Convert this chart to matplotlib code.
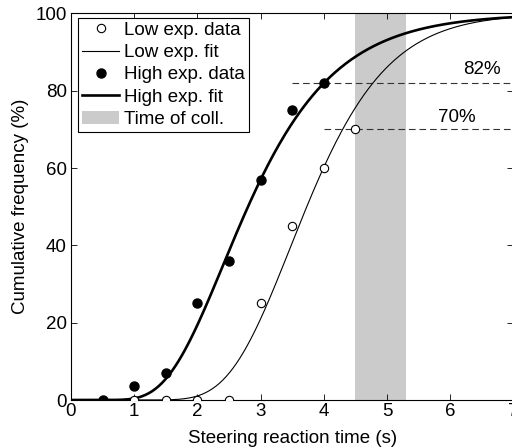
import math
import numpy as np
import matplotlib
matplotlib.use("Agg")
import matplotlib.pyplot as plt
from matplotlib.patches import Patch
from matplotlib.lines import Line2D

# Observed cumulative frequencies (%)
low_x = [1.0, 1.5, 2.0, 2.5, 3.0, 3.5, 4.0, 4.5]
low_y = [0, 0, 0, 0, 25, 45, 60, 70]
high_x = [0.5, 1.0, 1.5, 2.0, 2.5, 3.0, 3.5, 4.0]
high_y = [0, 3.5, 7, 25, 36, 57, 75, 82]

# Log-normal fit parameters (median in s, sigma of ln t)
low_fit_median, low_fit_sigma = 3.73, 0.27
high_fit_median, high_fit_sigma = 2.80, 0.39

# Time-of-collision window (s)
coll_window = [4.5, 5.3]

# Reference levels with the start of their guide line and label position
ref_levels = [82, 70]
ref_start = [3.5, 4.0]
ref_label_pos = [(6.5, 85.6), (6.1, 73.2)]

x_ticks = [0, 1, 2, 3, 4, 5, 6, 7]
y_ticks = [0, 20, 40, 60, 80, 100]


def lognorm_cdf(t, median, sigma):
    t = np.asarray(t, dtype=float)
    out = np.zeros_like(t)
    pos = t > 0
    z = (np.log(t[pos]) - math.log(median)) / (sigma * math.sqrt(2))
    out[pos] = 50.0 * (1.0 + np.vectorize(math.erf)(z))
    return out


plt.rcParams["font.family"] = ["Liberation Sans", "DejaVu Sans"]
plt.rcParams["font.size"] = 13.5

fig = plt.figure(figsize=(5.12, 4.48), dpi=100)
ax = fig.add_axes([71 / 512, 48 / 448, 442.4 / 512, 386.5 / 448])

ax.axvspan(coll_window[0], coll_window[1], color="#cbcbcb", lw=0, zorder=0)

t = np.linspace(0, 7, 400)
ax.plot(low_x, low_y, "o", mfc="white", mec="black", mew=0.8, ms=6, zorder=4)
ax.plot(t, lognorm_cdf(t, low_fit_median, low_fit_sigma), color="black", lw=0.8, zorder=3)
ax.plot(high_x, high_y, "o", mfc="black", mec="black", ms=6.5, zorder=4)
ax.plot(t, lognorm_cdf(t, high_fit_median, high_fit_sigma), color="black", lw=1.9, zorder=3)

for lvl, x0, (lx, ly) in zip(ref_levels, ref_start, ref_label_pos):
    ax.plot([x0, 7], [lvl, lvl], color="#333333", lw=0.8, dashes=(6, 3.5), zorder=2)
    ax.text(lx, ly, f"{lvl}%", ha="center", va="center", fontsize=13.5)

ax.set_xlim(0, 7)
ax.set_ylim(0, 100)
ax.set_xticks(x_ticks)
ax.set_yticks(y_ticks)
ax.tick_params(direction="in", top=True, right=True, length=4.5, width=0.6, pad=2)
ax.tick_params(axis="y", pad=3)
for s in ax.spines.values():
    s.set_linewidth(0.8)
ax.set_xlabel("Steering reaction time (s)", labelpad=7)
ax.set_ylabel("Cumulative frequency (%)", labelpad=5)

handles = [
    Line2D([], [], ls="none", marker="o", mfc="white", mec="black", mew=0.8, ms=6),
    Line2D([], [], color="black", lw=0.8),
    Line2D([], [], ls="none", marker="o", mfc="black", mec="black", ms=6.5),
    Line2D([], [], color="black", lw=1.9),
    Patch(facecolor="#cbcbcb", edgecolor="none"),
]
labels = ["Low exp. data", "Low exp. fit", "High exp. data", "High exp. fit", "Time of coll."]
leg = ax.legend(handles, labels, loc="upper left", bbox_to_anchor=(0.016, 0.988),
                fancybox=False, framealpha=1, edgecolor="black", borderpad=0.2,
                labelspacing=0.27, handlelength=2.0, handletextpad=0.25,
                borderaxespad=0, prop={"size": 13.5})
leg.get_frame().set_linewidth(0.8)

fig.savefig("out.png", dpi=100)
